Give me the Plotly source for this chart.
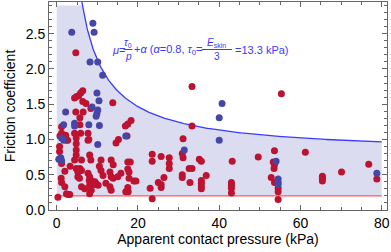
import numpy as np
import plotly.graph_objects as go

# ---------------- data ----------------
red_p = [4.7, 6.4, 5.9, 5.4, 4.9, 4.4, 6.4, 7.2, 13.8, 4.7, 6.5, 8.4, 5.7, 1.2, 18.3, 17.5, 16.9,
         33.3, 33.3, 55.3, 31.1, 5.7,
         0.8, 2.2, 1.2, 2.7, 4.4, 5.9, 7.7, 7.9, 14.6, 17.3, 15.2,
         2.4, 4.8, 7.7, 0.7, 4.8, 4.8, 4.8, 4.4, 0.7, 6.1, 8.1, 8.4, 10.9, 13.4, 13.9, 1.2,
         4.8, 5.7, 6.1, 5.2, 1.1, 1.2, 5.2, 5.6, 7.7, 8.1, 8.5, 9.4, 9.8, 10.2, 8.0, 9.2,
         10.9, 11.4, 13.1, 13.4, 13.9, 6.1, 6.9, 8.1, 8.5, 8.1, 13.1, 13.4, 2.4, 2.8, 3.2, 0.3,
         2.0, 3.3, 10.5, 12.1, 2.0,
         17.5, 18.1, 17.5, 17.8, 15.8, 15.0, 17.8, 19.0, 19.5, 17.5, 17.0, 17.6, 23.0, 23.5,
         25.0, 25.7, 25.7, 26.4, 30.9, 30.9, 32.6, 33.3, 32.8, 23.5, 23.5, 25.7, 27.7, 27.7,
         27.7, 30.9, 31.1,
         35.1, 35.6, 43.2, 36.8, 35.6, 35.6, 35.6, 35.6, 43.0, 43.0, 43.0, 43.0,
         49.6, 53.6, 61.2, 53.3, 53.6, 53.5, 52.8, 53.6, 54.5, 54.5, 54.5, 65.4, 65.4, 65.4,
         70.1, 76.8, 78.8]
red_mu = [2.23, 1.69, 1.66, 1.62, 1.61, 1.59, 1.54, 1.51, 1.52, 1.39, 1.39, 1.44, 1.31, 1.18, 1.27, 1.22, 1.19,
          1.75, 1.19, 1.65, 1.01, 1.21,
          1.05, 1.06, 1.09, 0.99, 1.09, 1.09, 1.09, 1.00, 0.95, 1.05, 1.00,
          0.99, 1.02, 0.99, 0.90, 0.94, 0.85, 0.78, 0.71, 0.83, 0.71, 0.78, 0.71, 0.71, 0.71, 0.64, 0.66,
          0.59, 0.59, 0.56, 0.54, 0.45, 0.39, 0.47, 0.45, 0.52, 0.47, 0.42, 0.40, 0.37, 0.35, 0.42, 0.36,
          0.56, 0.49, 0.54, 0.47, 0.45, 0.33, 0.30, 0.35, 0.28, 0.23, 0.33, 0.28, 0.23, 0.22, 0.22, 0.18,
          0.55, 0.62, 0.62, 0.38, 0.33,
          0.68, 0.68, 0.58, 0.54, 0.52, 0.47, 0.45, 0.41, 0.41, 0.32, 0.26, 0.26, 0.31, 0.16,
          0.39, 0.36, 0.32, 0.46, 0.50, 0.46, 0.59, 0.59, 0.39, 0.79, 0.69, 0.76, 0.74, 0.66,
          0.59, 0.80, 0.74,
          0.72, 0.69, 0.69, 0.49, 0.42, 0.38, 0.34, 0.30, 0.39, 0.35, 0.31, 0.24,
          0.75, 0.84, 0.82, 0.68, 0.64, 0.59, 0.46, 0.39, 0.31, 0.26, 0.15, 0.48, 0.45, 0.41,
          0.54, 0.65, 0.44]

blue_p = [8.9, 9.2, 3.7, 8.2, 10.1, 11.3, 9.9, 10.4, 8.7, 10.1, 9.9, 9.7, 2.2,
          1.7, 4.4, 4.4, 7.9, 10.5, 1.7, 1.2, 10.1, 1.0, 1.2, 0.5, 17.0,
          31.4, 40.7, 40.0, 40.0, 54.0, 54.5, 54.5, 54.5, 78.8]
blue_mu = [2.65, 2.52, 2.52, 2.10, 2.10, 1.91, 1.66, 1.55, 1.46, 1.42, 1.37, 1.33, 1.39,
           1.21, 1.23, 1.19, 1.21, 1.20, 0.99, 1.02, 0.93, 0.74, 0.70, 0.72, 1.05,
           0.85, 1.51, 1.31, 0.99, 0.69, 0.44, 0.39, 0.36, 0.52]

tau0 = 13.3      # kPa
alpha = 0.8
mu_floor = 0.2
mu_cap = 2.9
p_max = 80.0

x_range = [-1.9, 81.3]
y_range = [0.0, 2.95]

# ---------------- model curve ----------------
p_start = tau0 / (y_range[1] - alpha)
p_curve = np.linspace(p_start, p_max, 300)
mu_curve = tau0 / p_curve + alpha

p_cap = tau0 / (mu_cap - alpha)
p_fill = np.linspace(p_cap, p_max, 300)
mu_fill = tau0 / p_fill + alpha
fill_x = [0.0, p_max] + list(p_fill[::-1]) + [0.0]
fill_y = [mu_floor, mu_floor] + list(mu_fill[::-1]) + [mu_cap]

RED = "#bd1230"
BLUE_PT = "#4646a6"
CURVE = "#3a3aff"

fig = go.Figure()
fig.add_trace(go.Scatter(x=fill_x, y=fill_y, fill="toself", mode="none",
                         fillcolor="rgba(150,150,212,0.33)", hoverinfo="skip", showlegend=False))
fig.add_trace(go.Scatter(x=[0.0, p_max], y=[mu_floor, mu_floor], mode="lines",
                         line=dict(color="#ff5a5a", width=1.4), showlegend=False))
fig.add_trace(go.Scatter(x=p_curve, y=mu_curve, mode="lines",
                         line=dict(color=CURVE, width=1.3), showlegend=False))
fig.add_trace(go.Scatter(x=red_p, y=red_mu, mode="markers",
                         marker=dict(color=RED, size=7, line=dict(width=0)), showlegend=False))
fig.add_trace(go.Scatter(x=blue_p, y=blue_mu, mode="markers",
                         marker=dict(color=BLUE_PT, size=7, line=dict(width=0)), showlegend=False))

W, H = 391, 252
ML, MR, MT, MB = 49, 4, 2, 42
PW, PH = W - ML - MR, H - MT - MB


def px(xp):
    return (xp - ML) / PW


def py(yp):
    return (H - MB - yp) / PH


FONT = "Liberation Sans, Arial, sans-serif"
afont = dict(family=FONT, size=11, color=CURVE)
sfont = dict(family=FONT, size=10, color=CURVE)

ann = [
    dict(text="<i>μ</i>=", x=px(109.5), y=py(50), xanchor="left", yanchor="middle", font=afont),
    dict(text="<i>τ</i><sub>0</sub>", x=px(128), y=py(43), xanchor="center", yanchor="middle", font=sfont),
    dict(text="<i>p</i>", x=px(128), y=py(57), xanchor="center", yanchor="middle", font=sfont),
    dict(text="+<i>α</i> (<i>α</i>=0.8, <i>τ</i><sub>0</sub>=", x=px(132), y=py(50),
         xanchor="left", yanchor="middle", font=afont),
    dict(text="<i>E</i><sub>skin</sub>", x=px(216.5), y=py(43), xanchor="center", yanchor="middle", font=sfont),
    dict(text="3", x=px(217), y=py(57), xanchor="center", yanchor="middle", font=sfont),
    dict(text="=13.3 kPa)", x=px(233), y=py(50), xanchor="left", yanchor="middle", font=afont),
]
for a in ann:
    a.update(xref="paper", yref="paper", showarrow=False)

shapes = [
    dict(type="line", xref="paper", yref="paper", x0=px(123.5), x1=px(132.5), y0=py(49.5), y1=py(49.5),
         line=dict(color=CURVE, width=1)),
    dict(type="line", xref="paper", yref="paper", x0=px(201.5), x1=px(232), y0=py(49.5), y1=py(49.5),
         line=dict(color=CURVE, width=1)),
]

axis_common = dict(showgrid=False, zeroline=False, showline=True, linecolor="#666666", linewidth=1,
                   mirror="allticks", ticks="inside", ticklen=5, tickwidth=1, tickcolor="#666666",
                   tickfont=dict(family=FONT, size=14, color="black"))

fig.update_layout(
    width=W, height=H, margin=dict(l=ML, r=MR, t=MT, b=MB),
    paper_bgcolor="white", plot_bgcolor="white",
    annotations=ann, shapes=shapes,
    xaxis=dict(range=x_range, tickvals=[0, 20, 40, 60, 80],
               minor=dict(dtick=5, tick0=0, ticks="inside", ticklen=3, tickcolor="#666666"),
               title=dict(text="Apparent contact pressure (kPa)", standoff=3,
                          font=dict(family=FONT, size=14, color="black")),
               **axis_common),
    yaxis=dict(range=y_range, tick0=0, dtick=0.5, tickformat=".1f",
               minor=dict(dtick=0.1, tick0=0, ticks="inside", ticklen=3, tickcolor="#666666"),
               title=dict(text="Friction coefficient", standoff=6,
                          font=dict(family=FONT, size=14, color="black")),
               **axis_common),
)

fig.write_html("out.html", config={"displayModeBar": False},
               post_script="document.body.style.margin='0';document.body.style.overflow='hidden';")
